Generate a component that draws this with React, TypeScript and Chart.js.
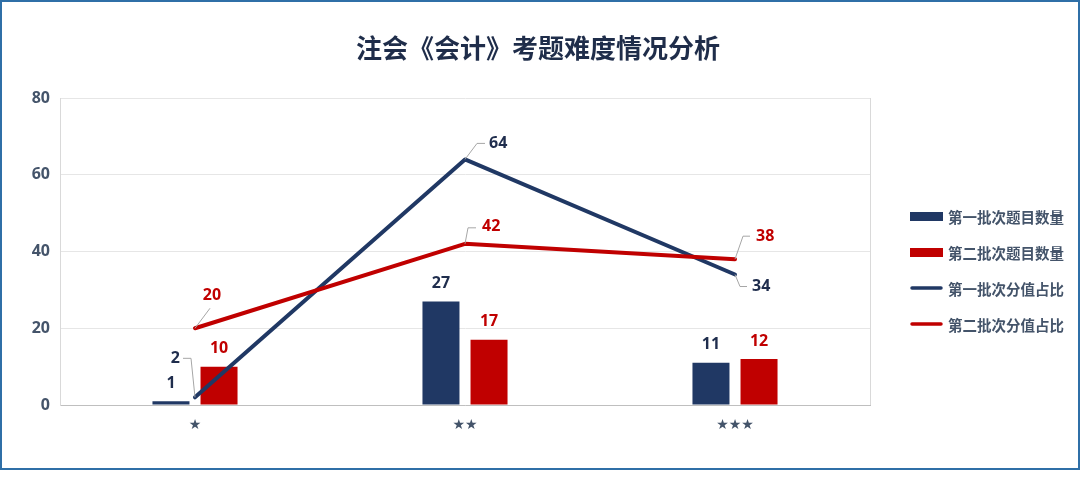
import React, { useEffect, useRef } from "react";
import { Chart, registerables } from "chart.js";

Chart.register(...registerables);

// ---------- data ----------
const title = "注会《会计》考题难度情况分析";
const categories = ["★", "★★", "★★★"];
const seriesNames = ["第一批次题目数量", "第二批次题目数量", "第一批次分值占比", "第二批次分值占比"];
const batch1Count = [1, 27, 11];
const batch2Count = [10, 17, 12];
const batch1Share = [2, 64, 34];
const batch2Share = [20, 42, 38];
const yMin = 0;
const yMax = 80;
const yStep = 20;

// ---------- styles ----------
const NAVY = "#203864";
const RED = "#c00000";
const NAVY_TEXT = "#1f2d4d";
const AXIS_TEXT = "#44546a";
const NUM_FONT = "'Open Sans', 'Liberation Sans', sans-serif";
const CJK_FONT = "'Noto Sans CJK SC', 'Noto Sans', sans-serif";

// callout geometry per line point: leader path offsets and label anchor (relative to point)
type Callout = { path: [number, number][]; label: [number, number]; align: CanvasTextAlign };
const lineCallouts: Callout[][] = [
  [
    { path: [[0, 0], [-4, -39], [-12, -39]], label: [-15, -39], align: "right" },
    { path: [[0, 0], [12, -16], [20, -16]], label: [24, -16], align: "left" },
    { path: [[0, 0], [5, 12], [12, 12]], label: [17, 12], align: "left" },
  ],
  [
    { path: [[0, 0], [15, -20]], label: [17, -33], align: "center" },
    { path: [[0, 0], [3, -16], [11, -16]], label: [17, -17], align: "left" },
    { path: [[0, 0], [8, -23], [15, -23]], label: [21, -23], align: "left" },
  ],
];

const decorPlugin = {
  id: "decor",
  beforeDatasetsDraw(chart: any) {
    const { ctx, chartArea } = chart;
    ctx.save();
    ctx.strokeStyle = "#d9d9d9";
    ctx.lineWidth = 1;
    ctx.beginPath();
    ctx.moveTo(Math.round(chartArea.right) + 0.5, chartArea.top);
    ctx.lineTo(Math.round(chartArea.right) + 0.5, chartArea.bottom);
    ctx.stroke();
    ctx.restore();
  },
  afterDatasetsDraw(chart: any) {
    const { ctx } = chart;
    ctx.save();
    ctx.font = `bold 16px ${NUM_FONT}`;
    ctx.textBaseline = "middle";
    // bar labels
    [0, 1].forEach((di) => {
      const meta = chart.getDatasetMeta(di);
      const data = chart.data.datasets[di].data as number[];
      ctx.fillStyle = di === 0 ? NAVY_TEXT : RED;
      ctx.textAlign = "center";
      meta.data.forEach((el: any, i: number) => {
        ctx.fillText(String(data[i]), el.x, el.y - 18);
      });
    });
    // line callouts
    [2, 3].forEach((di, k) => {
      const meta = chart.getDatasetMeta(di);
      const data = chart.data.datasets[di].data as number[];
      meta.data.forEach((el: any, i: number) => {
        const c = lineCallouts[k][i];
        ctx.strokeStyle = "#a6a6a6";
        ctx.lineWidth = 1;
        ctx.beginPath();
        c.path.forEach(([dx, dy], j) => {
          if (j === 0) ctx.moveTo(el.x + dx, el.y + dy);
          else ctx.lineTo(el.x + dx, el.y + dy);
        });
        ctx.stroke();
        ctx.fillStyle = k === 0 ? NAVY_TEXT : RED;
        ctx.textAlign = c.align;
        ctx.fillText(String(data[i]), el.x + c.label[0], el.y + c.label[1]);
      });
    });
    ctx.restore();
  },
  afterDraw(chart: any) {
    const { ctx } = chart;
    ctx.save();
    // title
    ctx.font = `bold 26px ${CJK_FONT}`;
    ctx.fillStyle = "#1f2d4a";
    ctx.textAlign = "center";
    ctx.textBaseline = "middle";
    ctx.fillText(title, 538, 48);
    // legend
    const lx = 910;
    const ly0 = 216;
    const gap = 36;
    ctx.font = `bold 14.5px ${CJK_FONT}`;
    ctx.textAlign = "left";
    seriesNames.forEach((name, i) => {
      const y = ly0 + i * gap;
      const color = i % 2 === 0 ? NAVY : RED;
      if (i < 2) {
        ctx.fillStyle = color;
        ctx.fillRect(lx, y - 4, 33, 9);
      } else {
        ctx.strokeStyle = color;
        ctx.lineWidth = 3.5;
        ctx.lineCap = "round";
        ctx.beginPath();
        ctx.moveTo(lx + 2, y);
        ctx.lineTo(lx + 31, y);
        ctx.stroke();
      }
      ctx.fillStyle = AXIS_TEXT;
      ctx.fillText(name, lx + 38, y + 1);
    });
    ctx.restore();
  },
};

export default function App() {
  const ref = useRef<HTMLCanvasElement>(null);
  useEffect(() => {
    document.body.style.margin = "0";
    const chart = new Chart(ref.current!, {
      type: "bar",
      data: {
        labels: categories,
        datasets: [
          {
            type: "bar",
            label: seriesNames[0],
            data: batch1Count,
            backgroundColor: NAVY,
            barPercentage: 0.77,
            categoryPercentage: 0.356,
            order: 2,
          },
          {
            type: "bar",
            label: seriesNames[1],
            data: batch2Count,
            backgroundColor: RED,
            barPercentage: 0.77,
            categoryPercentage: 0.356,
            order: 2,
          },
          {
            type: "line",
            label: seriesNames[2],
            data: batch1Share,
            borderColor: NAVY,
            backgroundColor: NAVY,
            borderWidth: 4,
            pointRadius: 0,
            tension: 0,
            borderCapStyle: "round",
            borderJoinStyle: "round",
            order: 1,
          },
          {
            type: "line",
            label: seriesNames[3],
            data: batch2Share,
            borderColor: RED,
            backgroundColor: RED,
            borderWidth: 4,
            pointRadius: 0,
            tension: 0,
            borderCapStyle: "round",
            borderJoinStyle: "round",
            order: 0,
          },
        ] as any,
      },
      options: {
        responsive: false,
        animation: false,
        devicePixelRatio: 1,
        layout: { padding: { top: 98, right: 210, bottom: 35, left: 0 } },
        plugins: {
          legend: { display: false },
          tooltip: { enabled: false },
          title: { display: false },
        },
        scales: {
          x: {
            grid: { display: false, drawTicks: false },
            border: { display: true, color: "#bfbfbf", width: 1 },
            ticks: {
              color: AXIS_TEXT,
              font: { size: 14, family: "'DejaVu Sans', sans-serif" },
              padding: 12,
            },
            afterFit: (s: any) => {
              s.height = 40;
            },
          },
          y: {
            min: yMin,
            max: yMax,
            grid: { color: "#e6e6e6", drawTicks: false },
            border: { display: true, color: "#d9d9d9", width: 1 },
            ticks: {
              stepSize: yStep,
              color: AXIS_TEXT,
              padding: 10,
              font: { size: 16, weight: "bold", family: NUM_FONT },
            },
            afterFit: (s: any) => {
              s.width = 60;
            },
          },
        },
      } as any,
      plugins: [decorPlugin],
    });
    return () => chart.destroy();
  }, []);

  return (
    <div style={{ position: "fixed", left: 0, top: 0, width: 1080, height: 480, background: "#fff" }}>
      <canvas ref={ref} width={1080} height={480} style={{ display: "block", width: 1080, height: 480 }} />
      <div
        style={{
          position: "absolute",
          left: 0,
          top: 0,
          width: 1080,
          height: 470,
          border: "2px solid #2f6fa7",
          boxSizing: "border-box",
          pointerEvents: "none",
        }}
      />
    </div>
  );
}
